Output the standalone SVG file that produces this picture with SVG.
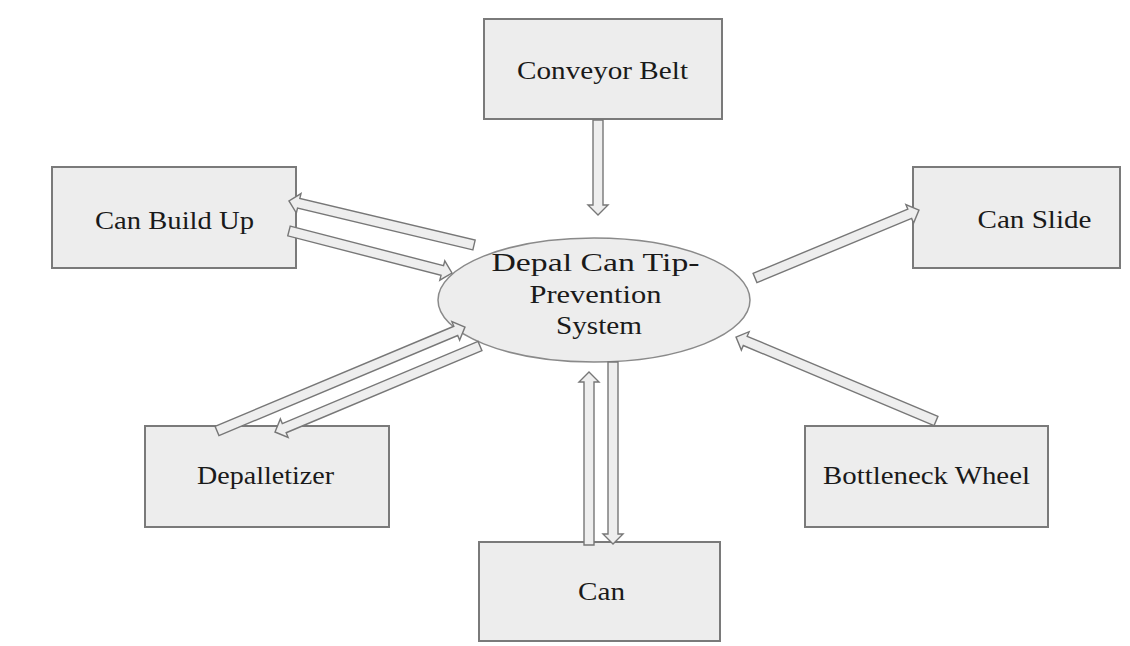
<svg xmlns="http://www.w3.org/2000/svg" width="1130" height="646" viewBox="0 0 1130 646">
<style>
.box{fill:#ededed;stroke:#7a7a7a;stroke-width:2}
.ell{fill:#ededed;stroke:#8a8a8a;stroke-width:1.5}
.t{font-family:"Liberation Serif","Times New Roman",serif;font-size:25px;fill:#1a1a1a;text-anchor:middle}
.arr{fill:#eeeeee;stroke:#777;stroke-width:1.4;stroke-linejoin:miter}
</style>
<rect width="1130" height="646" fill="#fff"/>
<g id="conveyor"><rect class="box" x="484" y="19" width="238" height="100"/><text class="t" x="602.5" y="79" textLength="171" lengthAdjust="spacingAndGlyphs">Conveyor Belt</text></g>
<g id="buildup"><rect class="box" x="52" y="167" width="244" height="101"/><text class="t" x="174.5" y="229" textLength="159" lengthAdjust="spacingAndGlyphs">Can Build Up</text></g>
<g id="slide"><rect class="box" x="913" y="167" width="207" height="101"/><text class="t" x="1034.5" y="228" textLength="114" lengthAdjust="spacingAndGlyphs">Can Slide</text></g>
<g id="depal"><rect class="box" x="145" y="426" width="244" height="101"/><text class="t" x="265.5" y="484" textLength="137" lengthAdjust="spacingAndGlyphs">Depalletizer</text></g>
<g id="bottleneck"><rect class="box" x="805" y="426" width="243" height="101"/><text class="t" x="926.5" y="484" textLength="207" lengthAdjust="spacingAndGlyphs">Bottleneck Wheel</text></g>
<g id="can"><rect class="box" x="479" y="542" width="241" height="99"/><text class="t" x="601.5" y="600" textLength="47" lengthAdjust="spacingAndGlyphs">Can</text></g>
<g id="system"><ellipse class="ell" cx="594" cy="300" rx="156" ry="62"/>
<text class="t" x="595.5" y="271" textLength="208" lengthAdjust="spacingAndGlyphs">Depal Can Tip-</text><text class="t" x="595.5" y="303" textLength="132" lengthAdjust="spacingAndGlyphs">Prevention</text><text class="t" x="599" y="334" textLength="86" lengthAdjust="spacingAndGlyphs">System</text></g>
<g id="connectors">
<polygon class="arr" transform="translate(598,120) rotate(90)" points="0,-5 85,-5 85,-10 95,0 85,10 85,5 0,5"/>
<polygon class="arr" transform="translate(474,245) rotate(193.38)" points="0,-5 180.2,-5 180.2,-10 190.2,0 180.2,10 180.2,5 0,5"/>
<polygon class="arr" transform="translate(289,231) rotate(14.45)" points="0,-5 158.3,-5 158.3,-10 168.3,0 158.3,10 158.3,5 0,5"/>
<polygon class="arr" transform="translate(217,431) rotate(-22.75)" points="0,-5 258.9,-5 258.9,-10 268.9,0 258.9,10 258.9,5 0,5"/>
<polygon class="arr" transform="translate(480,346) rotate(157.24)" points="0,-5 212.3,-5 212.3,-10 222.3,0 212.3,10 212.3,5 0,5"/>
<polygon class="arr" transform="translate(589,545) rotate(-90)" points="0,-5 163,-5 163,-10 173,0 163,10 163,5 0,5"/>
<polygon class="arr" transform="translate(613,362) rotate(90)" points="0,-5 172,-5 172,-10 182,0 172,10 172,5 0,5"/>
<polygon class="arr" transform="translate(755,278) rotate(-22.52)" points="0,-5 167.5,-5 167.5,-10 177.5,0 167.5,10 167.5,5 0,5"/>
<polygon class="arr" transform="translate(936,421) rotate(202.78)" points="0,-5 206.9,-5 206.9,-10 216.9,0 206.9,10 206.9,5 0,5"/>
</g>
</svg>
